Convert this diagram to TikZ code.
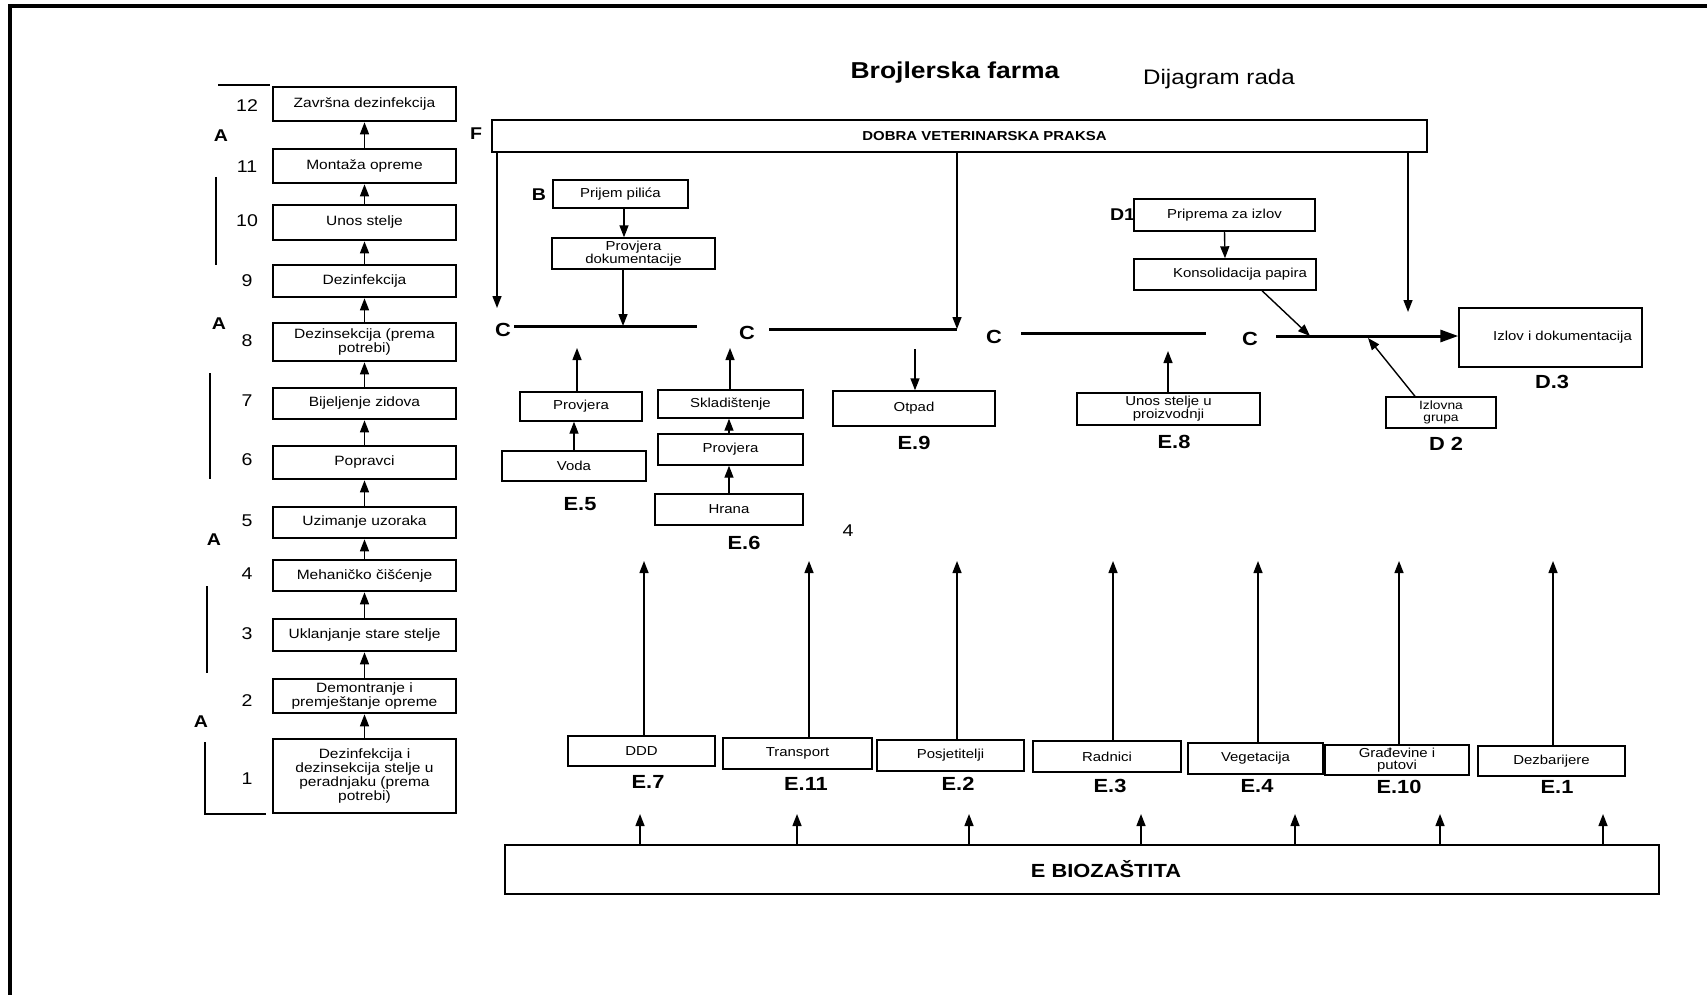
\documentclass[tikz,border=0pt]{standalone}
\usepackage{fontspec}
\setmainfont{Liberation Sans}[FakeStretch=1.15]
\usetikzlibrary{arrows.meta}
\newcommand\myfs[2]{\fontsize{#1}{#2}\selectfont}
\tikzset{
  lbox/.style={draw, line width=2.6pt, minimum width=183pt, inner sep=0pt, align=center, font=\myfs{13.5}{14}},
  sbox/.style={draw, line width=1.4pt, inner sep=0pt, align=center, font=\myfs{13}{13}},
  lab/.style={font=\bfseries\myfs{19}{19}, inner sep=0pt},
  tag/.style={font=\bfseries\myfs{17}{17}, inner sep=0pt},
  num/.style={font=\myfs{17}{17}, inner sep=0pt},
  arr/.style={line width=1.4pt, -{Triangle[length=12pt,width=9pt]}},
  cline/.style={line width=3pt},
  brk/.style={line width=1.3pt}
}
\begin{document}
\begin{tikzpicture}[x=1pt,y=-1pt]
\useasboundingbox (0,0) rectangle (1707,995);
\fill[white] (0,0) rectangle (1707,995);
\draw[line width=3.5pt] (10,995) -- (10,6) -- (1707,6);

% titles
\node[font=\bfseries\myfs{23}{23}] (title) at (955,73) {Brojlerska farma};
\node[font=\myfs{21}{21}] (sub) at (1219,79) {Dijagram rada};

% left column
\node[lbox, minimum height=34pt] (l12) at (364.5,104) {Završna dezinfekcija};
\node[lbox, minimum height=34pt] (l11) at (364.5,166) {Montaža opreme};
\node[lbox, minimum height=35pt] (l10) at (364.5,222.5) {Unos stelje};
\node[lbox, minimum height=32pt] (l9) at (364.5,281) {Dezinfekcija};
\node[lbox, minimum height=38pt] (l8) at (364.5,342) {Dezinsekcija (prema\\potrebi)};
\node[lbox, minimum height=31pt] (l7) at (364.5,403.5) {Bijeljenje zidova};
\node[lbox, minimum height=33pt] (l6) at (364.5,462.5) {Popravci};
\node[lbox, minimum height=31pt] (l5) at (364.5,522.5) {Uzimanje uzoraka};
\node[lbox, minimum height=31pt] (l4) at (364.5,575.5) {Mehaničko čišćenje};
\node[lbox, minimum height=32pt] (l3) at (364.5,635) {Uklanjanje stare stelje};
\node[lbox, minimum height=34pt] (l2) at (364.5,696) {Demontranje i\\premještanje opreme};
\node[lbox, minimum height=74pt] (l1) at (364.5,776) {Dezinfekcija i\\dezinsekcija stelje u\\peradnjaku (prema\\potrebi)};
\foreach \a/\b in {l1/l2,l2/l3,l3/l4,l4/l5,l5/l6,l6/l7,l7/l8,l8/l9,l9/l10,l10/l11,l11/l12}
  \draw[arr] (\a.north) -- (\b.south);

% numbers
\node[num] (n12) at (247,106) {12};
\node[num] (n11) at (247,167) {11};
\node[num] (n10) at (247,221) {10};
\node[num] (n9) at (247,281) {9};
\node[num] (n8) at (247,341) {8};
\node[num] (n7) at (247,401) {7};
\node[num] (n6) at (247,460) {6};
\node[num] (n5) at (247,521) {5};
\node[num] (n4) at (247,574) {4};
\node[num] (n3) at (247,634) {3};
\node[num] (n2) at (247,701) {2};
\node[num] (n1) at (247,779) {1};
\node[tag] (a1) at (221,136) {A};
\node[tag] (a2) at (219,324) {A};
\node[tag] (a3) at (214,540) {A};
\node[tag] (a4) at (201,722) {A};
\draw[brk] (218,85) -- (270,85);
\draw[brk] (216,177) -- (216,265);
\draw[brk] (210,373) -- (210,479);
\draw[brk] (207,586) -- (207,673);
\draw[brk] (205,742) -- (205,814) -- (266,814);

% F box
\node[draw, line width=1.8pt, minimum width=935pt, minimum height=32pt, inner sep=0pt, font=\bfseries\myfs{13}{13}] (F) at (959.5,136) {\hspace*{50pt}DOBRA VETERINARSKA PRAKSA};
\node[tag] (Fl) at (476,134) {F};
\coordinate (f1) at (497,308);
\coordinate (f3) at (1408,312);
\draw[arr] (F.south -| f1) -- (f1);
\draw[arr] (F.south -| f3) -- (f3);

% C lines
\node[lab] (c1) at (503,330) {C};
\node[lab] (c2) at (747,333) {C};
\node[lab] (c3) at (994,337) {C};
\node[lab] (c4) at (1250,339) {C};
\coordinate (c1a) at (514,326); \coordinate (c1b) at (697,326);
\coordinate (c2a) at (769,329); \coordinate (c2b) at (957,329);
\coordinate (c3a) at (1021,333); \coordinate (c3b) at (1206,333);
\coordinate (c4a) at (1276,336);
\draw[cline] (c1a) -- (c1b);
\draw[cline] (c2a) -- (c2b);
\draw[cline] (c3a) -- (c3b);
\draw[arr] (F.south -| c2b) -- (c2b);

% B
\node[sbox, minimum width=135pt, minimum height=28pt] (pp) at (620.5,194) {Prijem pilića};
\node[tag] (Bl) at (539,195) {B};
\node[sbox, minimum width=163pt, minimum height=31pt, font=\myfs{13}{12}] (pd) at (633.5,253.5) {Provjera\\dokumentacije};
\draw[arr] (pp.south -| 624,0) -- (pd.north -| 624,0);
\draw[arr] (pd.south -| 623,0) -- (c1a -| 623,0);

% D
\node[sbox, minimum width=181pt, minimum height=32pt] (d1) at (1224.5,215) {Priprema za izlov};
\node[tag, anchor=east] (D1l) at ([xshift=2pt]d1.west) {D1};
\node[sbox, minimum width=182pt, minimum height=31pt] (ko) at (1225,274.5) {\hspace*{30pt}Konsolidacija papira};
\draw[arr] (d1.south) -- (ko.north);
\node[sbox, minimum width=183pt, minimum height=59pt] (iz) at (1550.5,337.5) {\hspace*{24pt}Izlov i dokumentacija};
\node[lab] (D3) at (1552,382) {D.3};
\draw[cline, -{Triangle[length=18pt,width=12pt]}] (c4a) -- (iz.west |- c4a);
\coordinate (k1) at (1310,336);
\draw[arr] (ko.south -| 1262,0) -- (k1);
\node[sbox, minimum width=110pt, minimum height=31pt, font=\myfs{12}{12}] (d2) at (1441,412.5) {Izlovna\\grupa};
\node[lab] (D2l) at (1446,444) {D 2};
\coordinate (k2) at (1368,338);
\draw[arr] (d2.north -| 1415,0) -- (k2);

% E.5
\node[sbox, minimum width=122pt, minimum height=29pt] (pv1) at (581,406.5) {Provjera};
\node[sbox, minimum width=144pt, minimum height=30pt] (voda) at (574,466) {Voda};
\node[lab] (E5) at (580,504) {E.5};
\draw[arr] (voda.north) -- (voda.north |- pv1.south);
\coordinate (t5) at (577,348);
\draw[arr] (pv1.north -| t5) -- (t5);

% E.6
\node[sbox, minimum width=145pt, minimum height=28pt] (skl) at (730.5,404) {Skladištenje};
\node[sbox, minimum width=145pt, minimum height=31pt] (pv2) at (730.5,449.5) {Provjera};
\node[sbox, minimum width=148pt, minimum height=31pt] (hr) at (729,509.5) {Hrana};
\node[lab] (E6) at (744,543) {E.6};
\node[num] (four) at (848,531) {4};
\draw[arr] (hr.north -| 729,0) -- (pv2.south -| 729,0);
\draw[arr] (pv2.north -| 729,0) -- (skl.south -| 729,0);
\coordinate (t6) at (730,348);
\draw[arr] (skl.north -| t6) -- (t6);

% E.9
\node[sbox, minimum width=162pt, minimum height=35pt] (ot) at (914,408.5) {Otpad};
\node[lab] (E9) at (914,443) {E.9};
\coordinate (t9) at (915,349);
\draw[arr] (t9) -- (ot.north -| t9);

% E.8
\node[sbox, minimum width=183pt, minimum height=32pt, font=\myfs{13}{12}] (us) at (1168.5,409) {Unos stelje u\\proizvodnji};
\node[lab] (E8) at (1174,442) {E.8};
\coordinate (t8) at (1168,351);
\draw[arr] (us.north -| t8) -- (t8);

% bottom E boxes
\node[sbox, minimum width=147pt, minimum height=30pt] (e7) at (641.5,751) {DDD};
\node[sbox, minimum width=149pt, minimum height=31pt] (e11) at (797.5,753.5) {Transport};
\node[sbox, minimum width=147pt, minimum height=31pt] (e2) at (950.5,755.5) {Posjetitelji};
\node[sbox, minimum width=148pt, minimum height=31pt] (e3) at (1107,756.5) {Radnici};
\node[sbox, minimum width=135pt, minimum height=31pt] (e4) at (1255.5,758.5) {Vegetacija};
\node[sbox, minimum width=144pt, minimum height=30pt, font=\myfs{13}{12}] (e10) at (1397,760) {Građevine i\\putovi};
\node[sbox, minimum width=147pt, minimum height=30pt] (e1) at (1551.5,761) {Dezbarijere};
\node[lab] (E7) at (648,782) {E.7};
\node[lab] (E11) at (806,784) {E.11};
\node[lab] (E2) at (958,784) {E.2};
\node[lab] (E3) at (1110,786) {E.3};
\node[lab] (E4) at (1257,786) {E.4};
\node[lab] (E10) at (1399,787) {E.10};
\node[lab] (E1) at (1557,787) {E.1};
\coordinate (u7) at (644,561);
\coordinate (u11) at (809,561);
\coordinate (u2) at (957,561);
\coordinate (u3) at (1113,561);
\coordinate (u4) at (1258,561);
\coordinate (u10) at (1399,561);
\coordinate (u1) at (1553,561);
\foreach \b/\u in {e7/u7,e11/u11,e2/u2,e3/u3,e4/u4,e10/u10,e1/u1}
  \draw[arr] (\b.north -| \u) -- (\u);

% E BIOZASTITA
\node[draw, line width=1.8pt, minimum width=1154pt, minimum height=49pt, inner sep=0pt, font=\bfseries\myfs{19}{19}] (bio) at (1082,869.5) {\hspace*{48pt}E BIOZAŠTITA};
\foreach \x [count=\i] in {640,797,969,1141,1295,1440,1603}{
  \coordinate (s\i) at (\x,814);
  \draw[arr] (bio.north -| s\i) -- (s\i);
}
\end{tikzpicture}
\end{document}
